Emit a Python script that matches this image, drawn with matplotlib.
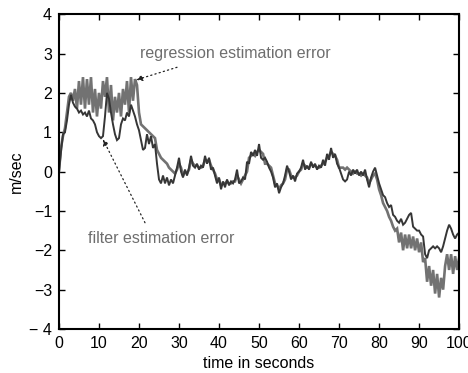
import numpy as np
import matplotlib
matplotlib.use("Agg")
import matplotlib.pyplot as plt

# time grid in seconds (0 .. 100 step 0.5)
time_s = np.arange(0, 100.01, 0.5)

filter_err = [
    0.0, 0.5, 0.95, 1.0, 1.3, 1.7, 1.95, 1.75, 1.65, 1.6,
    1.5, 1.55, 1.45, 1.5, 1.4, 1.55, 1.35, 1.3, 1.2, 1.0,
    0.9, 0.85, 0.9, 1.4, 2.0, 1.85, 1.5, 1.2, 0.95, 0.8,
    0.85, 1.2, 1.35, 1.3, 1.5, 1.4, 1.7, 1.55, 1.4, 1.2,
    1.05, 0.8, 0.55, 0.6, 0.95, 0.7, 0.9, 0.6, 0.7, 0.2,
    -0.2, -0.3, -0.1, -0.3, -0.15, -0.35, -0.2, -0.3, -0.1, 0.1,
    0.35, 0.0, -0.15, 0.05, -0.1, 0.1, 0.4, 0.15, 0.1, 0.2,
    0.05, 0.15, 0.1, 0.4, 0.2, 0.35, 0.05, 0.1, -0.1, -0.3,
    -0.15, -0.45, -0.25, -0.4, -0.2, -0.35, -0.25, -0.3, -0.2, 0.05,
    -0.3, -0.25, -0.15, -0.2, 0.25, 0.2, 0.5, 0.4, 0.55, 0.4,
    0.7, 0.35, 0.3, 0.35, 0.25, 0.1, 0.0, -0.15, -0.4, -0.3,
    -0.55, -0.4, -0.3, -0.1, 0.15, 0.0, -0.2, -0.1, -0.25, -0.05,
    0.0, 0.1, 0.3, 0.05, 0.15, 0.05, 0.25, 0.1, 0.2, 0.05,
    0.15, 0.1, 0.3, 0.15, 0.45, 0.3, 0.6, 0.35, 0.45, 0.2,
    0.1, -0.05, -0.2, -0.25, -0.2, 0.0, -0.1, 0.05, -0.05, 0.05,
    -0.1, 0.0, -0.1, 0.05, -0.2, -0.4, -0.15, 0.0, 0.1, -0.1,
    -0.3, -0.45, -0.6, -0.65, -0.8, -0.9, -0.85, -1.1, -1.15, -1.25,
    -1.3, -1.2, -1.35, -1.3, -1.2, -1.1, -1.05, -1.4, -1.45, -1.5,
    -1.5, -1.6, -1.65, -2.1, -2.2, -2.0, -1.95, -1.9, -1.95, -1.9,
    -1.95, -2.05, -1.9, -1.7, -1.5, -1.35, -1.45, -1.6, -1.7, -1.6,
    -1.55,
]

regression_err = [
    0.0, 0.6, 0.9, 1.1, 1.5, 1.9, 2.0, 1.8, 2.1, 1.6,
    2.3, 1.7, 2.4, 1.6, 2.35, 1.7, 2.4, 1.5, 2.1, 1.4,
    2.0, 1.6, 2.3, 1.9, 2.4, 1.5, 2.2, 1.3, 1.9, 1.5,
    2.0, 1.4, 2.1, 1.7, 2.3, 1.5, 2.4, 1.8, 2.35, 2.2,
    1.5, 1.2, 1.15, 1.1, 1.05, 1.0, 0.95, 0.9, 0.85, 0.55,
    0.45, 0.35, 0.3, 0.25, 0.2, 0.1, 0.05, 0.0, -0.05, 0.05,
    0.2, 0.1, -0.1, 0.0, -0.05, 0.05, 0.3, 0.2, 0.15, 0.15,
    0.1, 0.1, 0.15, 0.3, 0.25, 0.3, 0.15, 0.05, -0.05, -0.2,
    -0.2, -0.35, -0.3, -0.3, -0.25, -0.3, -0.3, -0.25, -0.25, -0.1,
    -0.2, -0.3, -0.2, -0.1, 0.0, 0.35, 0.4, 0.45, 0.4, 0.5,
    0.55, 0.5, 0.45, 0.2, 0.2, 0.15, 0.1, -0.1, -0.3, -0.35,
    -0.45, -0.35, -0.3, -0.2, 0.05, 0.05, -0.1, -0.15, -0.15, -0.1,
    0.0, 0.05, 0.2, 0.15, 0.1, 0.1, 0.2, 0.15, 0.15, 0.1,
    0.1, 0.15, 0.2, 0.25, 0.35, 0.4, 0.5, 0.45, 0.4, 0.3,
    0.1, 0.1, 0.1, 0.05, 0.1, 0.05, 0.0, -0.05, 0.0, -0.05,
    -0.05, -0.1, -0.05, -0.1, -0.15, -0.3, -0.2, -0.1, -0.05, -0.2,
    -0.45, -0.6, -0.8, -0.9, -1.0, -1.15, -1.25, -1.4, -1.5, -1.45,
    -1.8, -1.55, -2.0, -1.6, -1.95, -1.6, -1.95, -1.65, -2.0, -1.7,
    -2.05, -1.8, -2.3, -2.2, -2.8, -2.4, -2.9, -2.5, -3.1, -2.6,
    -3.2, -2.7, -3.0, -2.4, -2.1, -2.5, -2.1, -2.6, -2.15, -2.5,
    -2.2,
]

x_ticks = [0, 10, 20, 30, 40, 50, 60, 70, 80, 90, 100]
y_ticks = [-4, -3, -2, -1, 0, 1, 2, 3, 4]
y_tick_labels = ["\u2212 4", "\u22123", "\u22122", "\u22121", "0", "1", "2", "3", "4"]

plt.rcParams['font.family'] = ['Liberation Sans', 'DejaVu Sans']

fig = plt.figure(figsize=(4.68, 3.73), dpi=100)
ax = fig.add_axes([0.126, 0.118, 0.855, 0.844])

ax.plot(time_s, regression_err, color='#727272', lw=1.9, solid_joinstyle='miter')
ax.plot(time_s, filter_err, color='#363636', lw=1.4, solid_joinstyle='miter')

ax.set_xlim(0, 100)
ax.set_ylim(-4, 4)
ax.set_xticks(x_ticks)
ax.set_yticks(y_ticks)
ax.set_yticklabels(y_tick_labels)
ax.tick_params(direction='in', top=True, right=True, length=4, width=1,
               labelsize=11.5, pad=5, colors='black')
for s in ax.spines.values():
    s.set_linewidth(1.5)

ax.set_xlabel('time in seconds', fontsize=11.5, labelpad=4)
ax.set_ylabel('m/sec', fontsize=11.5, labelpad=4)

# annotations
ax.text(20.3, 3.0, 'regression estimation error', fontsize=11.5, color='#6e6e6e',
        va='center', ha='left')
ax.annotate('', xy=(19.3, 2.33), xytext=(29.5, 2.65),
            arrowprops=dict(arrowstyle='-|>', linestyle=(0, (1, 2.5)), lw=0.9,
                            color='#222222', mutation_scale=9, shrinkA=0, shrinkB=0))
ax.text(7.2, -1.7, 'filter estimation error', fontsize=11.5, color='#6e6e6e',
        va='center', ha='left')
ax.annotate('', xy=(11.0, 0.82), xytext=(21.5, -1.3),
            arrowprops=dict(arrowstyle='-|>', linestyle=(0, (1, 2.5)), lw=0.9,
                            color='#222222', mutation_scale=9, shrinkA=0, shrinkB=0))

fig.savefig('out.png', dpi=100)
